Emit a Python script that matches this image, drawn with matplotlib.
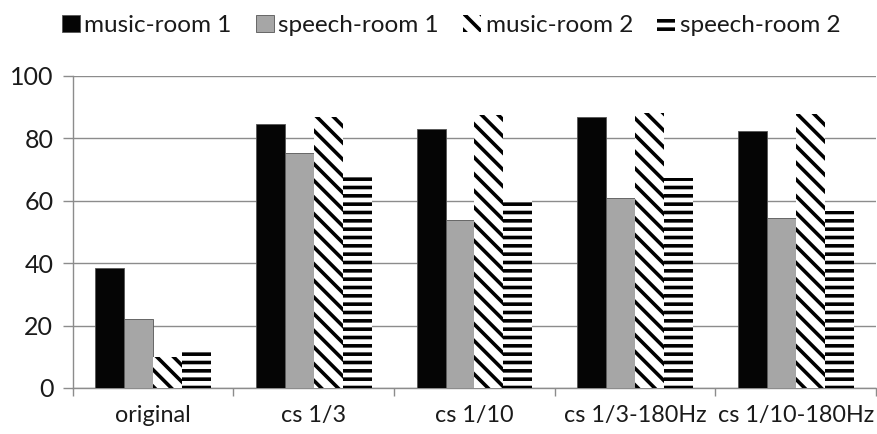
import numpy as np
import matplotlib
matplotlib.use("Agg")
import matplotlib.pyplot as plt
from matplotlib.patches import Patch

plt.rcParams['font.family'] = ['Lato', 'DejaVu Sans']
plt.rcParams['hatch.linewidth'] = 2.6

categories = ["original", "cs 1/3", "cs 1/10", "cs 1/3-180Hz", "cs 1/10-180Hz"]
series = ["music-room 1", "speech-room 1", "music-room 2", "speech-room 2"]
music_room1 = [38.5, 84.6, 83.0, 86.9, 82.4]
speech_room1 = [22.0, 75.3, 53.8, 60.9, 54.5]
music_room2 = [10.0, 86.9, 87.5, 88.1, 87.8]
speech_room2 = [11.5, 68.6, 60.9, 67.3, 56.7]

values = [music_room1, speech_room1, music_room2, speech_room2]
faces = ["#050505", "#a6a6a6", "white", "white"]
hatches = [None, None, "\\\\", "--"]

fig = plt.figure(figsize=(8.77, 4.34), dpi=100)
ax = fig.add_axes([0.083, 0.106, 0.916, 0.719])

x = np.arange(len(categories))
w = 0.18
for i, (vals, fc, h) in enumerate(zip(values, faces, hatches)):
    pos = x + (i - 1.5) * w
    if h is None:
        ax.bar(pos, vals, w, color=fc, edgecolor="#555555", linewidth=0.6, zorder=3)
    else:
        ax.bar(pos, vals, w, color=fc, edgecolor="black", hatch=h, linewidth=0, zorder=3)

ax.set_ylim(0, 100)
ax.set_xlim(-0.5, len(categories) - 0.5)
ax.set_yticks(np.arange(0, 101, 20))
ax.yaxis.grid(True, color="#8c8c8c", linewidth=1.0, zorder=0)
ax.set_axisbelow(True)

# boundary ticks between groups, labels centred on the groups
ax.set_xticks(np.arange(len(categories) + 1) - 0.5)
ax.set_xticklabels([])
ax.set_xticks(x, minor=True)
ax.set_xticklabels(categories, minor=True)
ax.tick_params(axis="x", which="minor", length=0, pad=12, labelsize=16.8, colors="#1a1a1a")
ax.tick_params(axis="x", which="major", length=6, color="#8c8c8c", width=1)
ax.tick_params(axis="y", length=7, color="#8c8c8c", width=1, labelsize=18, pad=7, labelcolor="#1a1a1a")

for s in ["top", "right"]:
    ax.spines[s].set_visible(False)
for s in ["left", "bottom"]:
    ax.spines[s].set_color("#8c8c8c")
    ax.spines[s].set_linewidth(1.0)

handles = []
for name, fc, h in zip(series, faces, hatches):
    if h is None:
        handles.append(Patch(facecolor=fc, edgecolor="#555555", linewidth=0.6, label=name))
    else:
        handles.append(Patch(facecolor=fc, edgecolor="black", hatch=h, linewidth=0, label=name))
fig.legend(handles=handles, loc="center left", bbox_to_anchor=(0.0707, 0.942), ncol=4,
           frameon=False, fontsize=17.5, handlelength=0.72, handleheight=0.72,
           handletextpad=0.2, columnspacing=1.0, borderpad=0, borderaxespad=0,
           labelcolor="#1a1a1a")

fig.savefig("out.png", dpi=100)
